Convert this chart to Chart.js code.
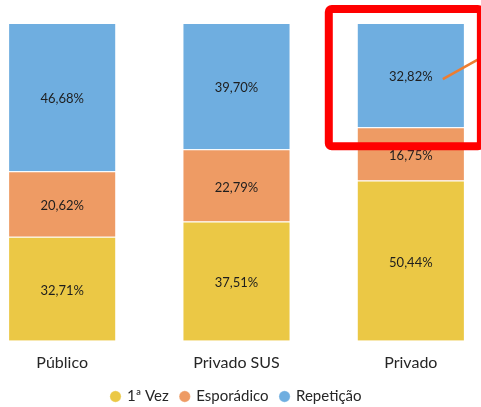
<!DOCTYPE html>
<html>
<head>
<meta charset="utf-8">
<script src="https://cdn.jsdelivr.net/npm/chart.js@4"></script>
<style>
	html, body { margin: 0; padding: 0; background: #fff; overflow: hidden; }
	#wrap { position: absolute; left: -25px; top: 0; width: 523px; height: 414px; }
</style>
</head>
<body>
<div id="wrap"><canvas id="chart"></canvas></div>
<script>
var categorias = ["Público", "Privado SUS", "Privado"];
var primeiraVez = [32.71, 37.51, 50.44];
var esporadico  = [20.62, 22.79, 16.75];
var repeticao   = [46.68, 39.70, 32.82];

function fmt(v) {
	return v.toFixed(2).replace(".", ",") + "%";
}

// rótulos dentro das barras
const valueLabels = {
	id: "valueLabels",
	afterDatasetsDraw(chart) {
		const ctx = chart.ctx;
		ctx.save();
		ctx.font = "13px Lato";
		ctx.fillStyle = "#1e1e1e";
		ctx.textAlign = "center";
		ctx.textBaseline = "middle";
		chart.data.datasets.forEach((ds, i) => {
			chart.getDatasetMeta(i).data.forEach((bar, j) => {
				ctx.fillText(fmt(ds.data[j]), bar.x, (bar.y + bar.base) / 2 + 2);
			});
		});
		ctx.restore();
	}
};

// destaque vermelho em volta da barra "Privado"
const highlight = {
	id: "highlight",
	afterDraw(chart) {
		const ctx = chart.ctx;
		const bar = chart.getDatasetMeta(2).data[2];
		const left = bar.x - bar.width / 2, right = bar.x + bar.width / 2;
		const midY = (bar.y + bar.base) / 2;
		ctx.save();
		ctx.strokeStyle = "#ED7D31";
		ctx.lineWidth = 2.5;
		ctx.beginPath();
		ctx.moveTo(bar.x + 32, midY + 4);
		ctx.lineTo(bar.x + 75, midY - 20);
		ctx.stroke();

		ctx.strokeStyle = "#FF0000";
		ctx.lineWidth = 8;
		ctx.lineJoin = "round";
		ctx.beginPath();
		ctx.roundRect(left - 28, bar.y - 14, (right + 16) - (left - 28), (bar.base + 19) - (bar.y - 14), 3);
		ctx.stroke();
		ctx.restore();
	}
};

const ctxChart = document.getElementById("chart").getContext("2d");
const chart = new Chart(ctxChart, {
	type: "bar",
	data: {
		labels: categorias,
		datasets: [
			{ label: "1ª Vez", data: primeiraVez, backgroundColor: "#EBC845" },
			{ label: "Esporádico", data: esporadico, backgroundColor: "#EE9B64" },
			{ label: "Repetição", data: repeticao, backgroundColor: "#6FAEE0" }
		]
	},
	options: {
		responsive: true,
		maintainAspectRatio: false,
		animation: false,
		layout: { padding: { top: 23, left: 0, right: 0, bottom: 0 } },
		datasets: {
			bar: {
				barPercentage: 0.62,
				categoryPercentage: 1,
				borderWidth: 1,
				borderColor: "rgba(255,255,255,0.3)"
			}
		},
		scales: {
			x: {
				stacked: true,
				grid: { display: false },
				border: { display: false },
				ticks: { color: "#262626", font: { family: "Lato", size: 16 }, padding: 4.5 }
			},
			y: {
				stacked: true,
				display: false,
				min: 0,
				max: 100.01
			}
		},
		plugins: {
			legend: {
				position: "bottom",
				labels: {
					usePointStyle: true,
					pointStyle: "circle",
					boxWidth: 8,
					boxHeight: 8,
					padding: 12,
					color: "#262626",
					font: { family: "Lato", size: 15 }
				}
			},
			tooltip: { enabled: false }
		}
	},
	plugins: [valueLabels, highlight]
});
</script>
</body>
</html>
